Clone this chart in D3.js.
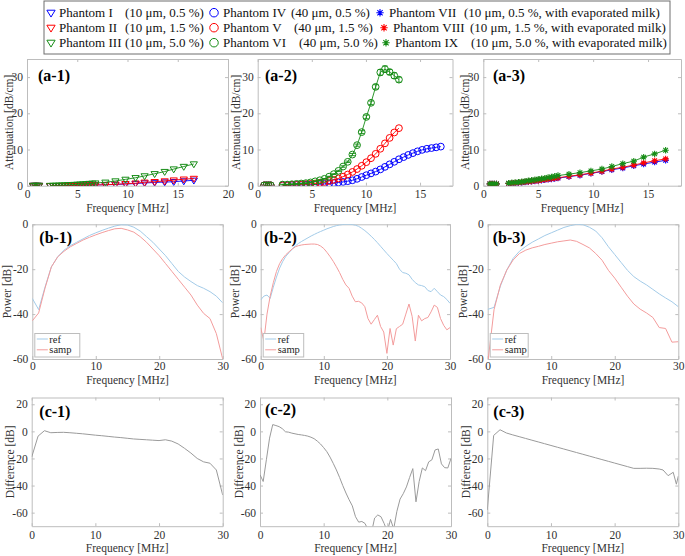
<!DOCTYPE html>
<html><head><meta charset="utf-8">
<script src="https://cdn.jsdelivr.net/npm/d3@7"></script>
<style>body{margin:0;background:#fff} svg{display:block;font-family:"Liberation Serif","Times New Roman",serif}</style>
</head><body><svg id="c" width="685" height="556"></svg>
<script>
// ---------------- DATA ----------------
const legendNames = [["Phantom I","Phantom IV","Phantom VII"],["Phantom II","Phantom V","Phantom VIII"],["Phantom III","Phantom VI","Phantom IX"]];
const legendParams = [["(10 \u03bcm, 0.5 %)","(40 \u03bcm, 0.5 %)","(10 \u03bcm, 0.5 %, with evaporated milk)"],
                      ["(10 \u03bcm, 1.5 %)","(40 \u03bcm, 1.5 %)","(10 \u03bcm, 1.5 %, with evaporated milk)"],
                      ["(10 \u03bcm, 5.0 %)","(40 \u03bcm, 5.0 %)","(10 \u03bcm, 5.0 %, with evaporated milk)"]];
const panelTags = ["(a-1)","(a-2)","(a-3)","(b-1)","(b-2)","(b-3)","(c-1)","(c-2)","(c-3)"];
const seriesColors = ["#0000ff","#ff0000","#168c16"];

const freqLow = [0.6, 0.8, 1.0, 1.2];
const freqA13 = [2.3,2.6,2.9,3.2,3.5,3.8,4.1,4.4,4.7,5.0,5.3,5.6,5.9,6.2,6.5,6.8,7.8,8.8,9.8,10.8,11.7,12.7,13.7,14.6,15.6,16.6];
const freqA2 = [2.30,2.73,3.16,3.59,4.02,4.45,4.88,5.31,5.74,6.17,6.60,7.03,7.46,7.89,8.32,8.75,9.18,9.61,10.04,10.47,10.90,11.33,11.76,12.19,12.62,13.05,13.48,13.91,14.34,14.77,15.20,15.63,16.06,16.49,16.92];

// (a-1) Phantom I, II, III
const a1LowI = [0.05,0.05,0.05,0.05];
const a1LowII = [0.05,0.05,0.05,0.05];
const a1LowIII = [0.08,0.08,0.08,0.08];
const a1I = [0,0,0,0,0,0,0.02,0.03,0.05,0.07,0.08,0.1,0.12,0.14,0.16,0.18,0.25,0.35,0.45,0.6,0.75,0.9,1.0,1.1,1.3,1.5];
const a1II = [0,0,0,0,0,0,0.02,0.04,0.06,0.08,0.1,0.12,0.14,0.16,0.18,0.2,0.25,0.4,0.55,0.7,0.95,1.1,1.3,1.55,1.8,2.0];
const a1III = [0.05,0.08,0.1,0.13,0.16,0.2,0.24,0.28,0.32,0.37,0.42,0.47,0.53,0.6,0.66,0.72,0.95,1.3,1.75,2.2,2.7,3.3,3.9,4.6,5.3,6.0];

// (a-2) Phantom IV, V, VI
const a2LowIV = [0.1,0.1,0.1,0.1];
const a2LowV = [0.1,0.1,0.1,0.1];
const a2LowVI = [0.1,0.1,0.1,0.1];
const a2IV = [0.1,0.1,0.15,0.2,0.2,0.25,0.3,0.35,0.4,0.5,0.6,0.75,0.9,1.05,1.25,1.5,1.9,2.4,2.9,3.4,3.9,4.5,5.2,5.9,6.6,7.3,7.9,8.5,9.0,9.5,9.9,10.2,10.4,10.6,10.8];
const a2V = [0.1,0.1,0.2,0.2,0.3,0.4,0.5,0.6,0.8,1.0,1.3,1.6,2.0,2.5,3.1,3.8,4.6,5.5,6.5,7.6,8.8,10.2,11.7,13.2,14.7,15.9];
const a2VI = [0.3,0.3,0.4,0.5,0.6,0.7,0.9,1.2,1.5,1.9,2.5,3.2,4.1,5.3,6.6,8.6,11.2,14.8,19.0,22.9,27.3,31.3,32.2,31.4,30.4,29.3];
const a2VIerr = [0.1,0.1,0.1,0.1,0.1,0.1,0.1,0.1,0.1,0.1,0.1,0.1,0.15,0.2,0.2,0.3,0.3,0.4,0.5,0.5,0.6,0.8,0.9,0.7,0.8,0.7];

// (a-3) Phantom VII, VIII, IX
const a3LowVII = [0.5,0.5,0.5,0.5];
const a3LowVIII = [0.5,0.5,0.5,0.5];
const a3LowIX = [0.5,0.5,0.5,0.5];
const a3VII = [0.6,0.65,0.7,0.8,0.9,1.0,1.1,1.2,1.3,1.4,1.5,1.6,1.75,1.85,2.0,2.1,2.5,2.9,3.4,3.9,4.4,4.9,5.5,6.0,6.5,7.0];
const a3VIII = [0.6,0.7,0.75,0.85,0.95,1.05,1.15,1.25,1.35,1.45,1.6,1.7,1.85,1.95,2.1,2.2,2.6,3.0,3.5,4.0,4.6,5.1,5.7,6.3,6.9,7.4];
const a3IX = [0.7,0.8,0.9,1.0,1.1,1.25,1.4,1.5,1.65,1.8,1.95,2.1,2.25,2.4,2.6,2.8,3.2,3.6,4.1,4.6,5.3,6.1,6.8,7.9,8.8,9.8];

// (b) power spectra
const freqB = [0,1,2,3,4,5,6,7,8,9,10,11,12,13,14,15,16,17,18,19,20,21,22,23,24,25,26,27,28,29,30];
const freqB2 = [0,0.5,1,1.5,2,2.5,3,3.5,4,4.5,5,5.5,6,6.5,7,7.5,8,8.5,9,9.5,10,10.5,11,11.5,12,12.5,13,13.5,14,14.5,15,15.5,16,16.5,17,17.5,18,18.5,19,19.5,20,20.5,21,21.5,22,22.5,23,23.5,24,24.5,25,25.5,26,26.5,27,27.5,28,28.5,29,29.5,30];
const b1Ref = [-33,-38,-28,-19,-14.5,-11.5,-9.5,-8,-6.5,-5,-3.8,-2.7,-1.7,-0.8,-0.2,-0.3,-1.3,-3,-5.5,-8,-11,-14,-17.5,-21,-23.5,-25.5,-27.3,-28.5,-30,-32,-35];
const b1Samp = [-43,-39.5,-28.5,-19,-14.5,-12,-10,-8.5,-7,-5.8,-4.7,-3.7,-2.8,-2,-1.8,-2.5,-3.5,-5.5,-8,-11,-14,-17.5,-21,-24.5,-28,-31.5,-36,-39.7,-42,-48.7,-60];
const b2Ref = [-33.7,-32,-31.5,-33,-28,-23.5,-19.5,-16.5,-14.2,-12.6,-11,-9.6,-8.5,-7.6,-6.8,-6,-5.2,-4.5,-3.8,-3.2,-2.6,-2,-1.5,-1,-0.6,-0.3,-0.1,0,0,-0.1,-0.4,-0.9,-1.8,-2.8,-4,-5.3,-6.7,-8.2,-9.8,-11.4,-13,-14.5,-16,-17.5,-20,-21.5,-21.8,-22.5,-24.5,-26,-27,-27.3,-27.8,-29.5,-30,-28.5,-30,-31.5,-32.2,-33.5,-35.2];
const b2Samp = [-46,-52,-40,-32,-26,-21,-17.5,-15.2,-13.5,-12.2,-11,-10,-9.5,-9.2,-9,-8.9,-8.8,-8.8,-9,-9.7,-10.8,-12.5,-14.4,-16.5,-18.9,-21.5,-24.5,-27,-28.5,-32,-34.5,-34.3,-35,-36.7,-42,-44.5,-42.5,-40.5,-45.5,-48,-57.5,-46.4,-53.8,-46.5,-45.5,-44.5,-40,-35.5,-41,-52,-40.5,-43,-42,-41.5,-39,-36,-37,-42,-45,-47,-46];
const b3Ref = [-37.9,-37,-27.5,-20.4,-15.2,-12,-9.8,-8,-6.5,-5,-3.8,-2.6,-1.4,-0.6,0,-0.2,-1.3,-3,-6,-10,-13.5,-17,-20.5,-23.3,-25.3,-27,-29,-31,-32.8,-34.5,-36.7];
const b3Samp = [-62,-38,-27,-20.4,-15.9,-13,-11.5,-10.5,-9.8,-9,-8.4,-7.8,-7.4,-7,-7.6,-9,-10.5,-13,-16,-20.5,-24,-28,-32,-35.5,-37.8,-39.5,-41.5,-46,-46.4,-52.5,-52.3];

// (c) differences
const c1Diff = [-19,-3.5,0.5,-1,-0.8,-0.7,-1,-1.4,-1.8,-2.3,-2.8,-3.2,-3.7,-4.2,-4.6,-5.1,-5.6,-5.9,-6.2,-6.5,-6.8,-6.2,-7.2,-9.3,-12.5,-16,-20,-22.5,-23.5,-28.5,-47];
const c2Diff = [-32,-37,-21,-5,5,4.3,3.5,2,-0.3,-0.6,-1.3,-1.8,-2.3,-2.6,-3,-3.5,-4.3,-5.4,-7.2,-9.3,-12,-15,-19,-23.6,-28.5,-34,-40,-45.5,-50.5,-55,-63,-67,-66.5,-68,-73,-75,-64,-61.7,-63,-68,-74,-65,-72,-59,-50,-46,-41,-34,-27.5,-52,-37,-27,-29,-22.5,-21,-13.7,-13,-24,-26.8,-27,-20];
const freqC3 = [0,1,2,3,4,5,6,7,8,9,10,11,12,13,14,15,16,17,18,19,20,21,22,23,24,25,26,27,27.6,28.4,29.2,29.7,30];
const c3Diff = [-58,-3,1.2,-1.2,-2.6,-3.9,-5.2,-6.5,-7.8,-9.1,-10.4,-11.7,-13,-14.3,-15.6,-16.9,-18.2,-19.5,-20.8,-22.1,-23.4,-24.7,-26,-27.3,-27.3,-27.2,-27.3,-27.8,-28.5,-32.7,-30.2,-39,-33];

// ---------------- DRAWING ----------------
const FONT = '"Liberation Serif","Times New Roman",serif';
const svg = d3.select("#c");
const defs = svg.append("defs");
let clipN = 0;

function panel(o) {
  const xs = d3.scaleLinear().domain(o.xd).range([o.x0, o.x1]);
  const ys = d3.scaleLinear().domain(o.yd).range([o.y1, o.y0]);
  const cid = "clip" + (clipN++);
  defs.append("clipPath").attr("id", cid).append("rect")
    .attr("x", o.x0).attr("y", o.y0).attr("width", o.x1 - o.x0).attr("height", o.y1 - o.y0);
  const g = svg.append("g");
  const fmt = d => String(d);
  g.append("g").attr("transform", `translate(0,${o.y1})`)
    .call(d3.axisBottom(xs).tickValues(o.xt).tickSize(-3).tickSizeOuter(0).tickPadding(o.xpad).tickFormat(fmt));
  g.append("g").attr("transform", `translate(0,${o.y0})`)
    .call(d3.axisTop(xs).tickValues(o.xt).tickSize(-3).tickSizeOuter(0).tickFormat(() => ""));
  g.append("g").attr("transform", `translate(${o.x0},0)`)
    .call(d3.axisLeft(ys).tickValues(o.yt).tickSize(-3).tickSizeOuter(0).tickPadding(4).tickFormat(fmt));
  g.append("g").attr("transform", `translate(${o.x1},0)`)
    .call(d3.axisRight(ys).tickValues(o.yt).tickSize(-3).tickSizeOuter(0).tickFormat(() => ""));
  g.selectAll(".domain").attr("stroke", "#bdbdbd").attr("stroke-width", 1);
  g.selectAll(".tick line").attr("stroke", "#bdbdbd");
  g.selectAll(".tick text").attr("fill", "#303030").style("font-family", FONT).style("font-size", "11.5px");
  svg.append("text").attr("x", (o.x0 + o.x1) / 2).attr("y", o.xlabY).attr("text-anchor", "middle")
    .style("font-family", FONT).style("font-size", "11.5px").attr("fill", "#333").text("Frequency [MHz]");
  svg.append("text").attr("transform", `translate(${o.ylabX},${(o.y0 + o.y1) / 2}) rotate(-90)`)
    .attr("text-anchor", "middle").style("font-family", FONT).style("font-size", "11.5px").attr("fill", "#333").text(o.ylab);
  const plot = svg.append("g").attr("clip-path", `url(#${cid})`);
  const top = svg.append("g");
  top.append("text").attr("x", o.tagX).attr("y", o.tagY).style("font-family", FONT).style("font-size", "16px")
    .style("font-weight", "bold").attr("fill", "#000").text(o.tag);
  return {xs, ys, plot, top, o};
}

function marker(sel, type, x, y, color, s) {
  s = s || 1;
  if (type === "tri") {
    const h = 3.6 * s;
    sel.append("path").attr("d", `M${x - h},${y - h * 0.6}L${x + h},${y - h * 0.6}L${x},${y + h * 1.05}Z`)
      .attr("fill", "none").attr("stroke", color).attr("stroke-width", 1);
  } else if (type === "circ") {
    sel.append("circle").attr("cx", x).attr("cy", y).attr("r", 3.4 * s)
      .attr("fill", "none").attr("stroke", color).attr("stroke-width", 1);
  } else {
    const r = 3.2 * s, d = r * 0.72;
    sel.append("path").attr("d", `M${x},${y - r}V${y + r}M${x - r},${y}H${x + r}M${x - d},${y - d}L${x + d},${y + d}M${x - d},${y + d}L${x + d},${y - d}`)
      .attr("fill", "none").attr("stroke", color).attr("stroke-width", 1.1);
  }
}

function attSeries(P, freq, vals, color, type, err) {
  const pts = vals.map((v, i) => [freq[i], v]);
  const line = d3.line().x(d => P.xs(d[0])).y(d => P.ys(d[1]));
  P.plot.append("path").attr("d", line(pts)).attr("fill", "none").attr("stroke", color).attr("stroke-width", 0.9);
  pts.forEach((d, i) => {
    const x = P.xs(d[0]), y = P.ys(d[1]);
    if (err) {
      const e = err[i];
      const y1 = P.ys(d[1] - e), y2 = P.ys(d[1] + e);
      P.plot.append("path").attr("d", `M${x},${y1}V${y2}M${x - 2.5},${y1}H${x + 2.5}M${x - 2.5},${y2}H${x + 2.5}`)
        .attr("stroke", color).attr("stroke-width", 0.9).attr("fill", "none");
    }
    marker(P.plot, type, x, y, color);
  });
}

function specLine(P, freq, vals, color) {
  const line = d3.line().x((d, i) => P.xs(freq[i])).y(d => P.ys(d));
  P.plot.append("path").attr("d", line(vals)).attr("fill", "none").attr("stroke", color).attr("stroke-width", 1);
}

const REF = "#a3cbe8", SAMP = "#f39c9c", DIFF = "#9a9a9a";

function specLegend(P, w) {
  const o = P.o;
  const bx = o.x0 + 2.5, by = o.y1 - 25.5;
  P.top.append("rect").attr("x", bx).attr("y", by).attr("width", w).attr("height", 23.5)
    .attr("fill", "#fff").attr("stroke", "#bdbdbd").attr("stroke-width", 1);
  [["ref", REF], ["samp", SAMP]].forEach((e, i) => {
    const yy = by + 5.5 + i * 10.8;
    P.top.append("line").attr("x1", bx + 2).attr("x2", bx + 13).attr("y1", yy).attr("y2", yy).attr("stroke", e[1]).attr("stroke-width", 1);
    P.top.append("text").attr("x", bx + 14.5).attr("y", yy + 3.6).style("font-family", FONT).style("font-size", "10.5px")
      .attr("fill", "#262626").text(e[0]);
  });
}

// ---- row a
const rowA = {y0: 59, y1: 185.7, yd: [0, 35], yt: [0, 10, 20, 30], xpad: 4.5, xlabY: 212, ylab: "Attenuation [dB/cm]", tagY: 81};
const A1 = panel({...rowA, x0: 27, x1: 228, xd: [0, 20], xt: [0, 5, 10, 15, 20], ylabX: 12.5, tag: panelTags[0], tagX: 38});
const A2 = panel({...rowA, x0: 257.7, x1: 452.5, xd: [0, 18], xt: [0, 5, 10, 15], ylabX: 240, tag: panelTags[1], tagX: 265});
const A3 = panel({...rowA, x0: 483.3, x1: 681, xd: [0, 18], xt: [0, 5, 10, 15], ylabX: 468.5, tag: panelTags[2], tagX: 493});

[[a1LowI, a1I], [a1LowII, a1II], [a1LowIII, a1III]].forEach((s, k) => {
  attSeries(A1, freqLow, s[0], seriesColors[k], "tri");
  attSeries(A1, freqA13, s[1], seriesColors[k], "tri");
});
attSeries(A2, freqLow, a2LowIV, seriesColors[0], "circ");
attSeries(A2, freqA2, a2IV, seriesColors[0], "circ");
attSeries(A2, freqLow, a2LowV, seriesColors[1], "circ");
attSeries(A2, freqA2, a2V, seriesColors[1], "circ");
attSeries(A2, freqLow, a2LowVI, seriesColors[2], "circ");
attSeries(A2, freqA2, a2VI, seriesColors[2], "circ", a2VIerr);
[[a3LowVII, a3VII], [a3LowVIII, a3VIII], [a3LowIX, a3IX]].forEach((s, k) => {
  attSeries(A3, freqLow, s[0], seriesColors[k], "star");
  attSeries(A3, freqA13, s[1], seriesColors[k], "star");
});

// ---- row b
const rowB = {y0: 224.3, y1: 359, yd: [-60, 0], yt: [-60, -40, -20, 0], xd: [0, 30], xt: [0, 10, 20, 30], xpad: 2.5, xlabY: 383.5, ylab: "Power [dB]", tagY: 243.3};
const B1 = panel({...rowB, x0: 32.3, x1: 222.7, ylabX: 10.7, tag: panelTags[3], tagX: 39.3});
const B2 = panel({...rowB, x0: 260.7, x1: 450, ylabX: 239, tag: panelTags[4], tagX: 264});
const B3 = panel({...rowB, x0: 487.7, x1: 678.3, ylabX: 467, tag: panelTags[5], tagX: 492.7});
specLine(B1, freqB, b1Ref, REF); specLine(B1, freqB, b1Samp, SAMP);
specLine(B2, freqB2, b2Ref, REF); specLine(B2, freqB2, b2Samp, SAMP);
specLine(B3, freqB, b3Ref, REF); specLine(B3, freqB, b3Samp, SAMP);
specLegend(B1, 45); specLegend(B2, 40.5); specLegend(B3, 38);

// ---- row c
const rowC = {y0: 397.5, y1: 526.2, yd: [-70, 25], yt: [-60, -40, -20, 0, 20], xd: [0, 30], xt: [0, 10, 20, 30], xpad: 4.5, xlabY: 552, ylab: "Difference [dB]", tagY: 416.7};
const C1 = panel({...rowC, x0: 31.7, x1: 222.7, ylabX: 14, tag: panelTags[6], tagX: 39.3});
const C2 = panel({...rowC, x0: 260, x1: 451, ylabX: 242.5, tag: panelTags[7], tagX: 265, tagY: 415});
const C3 = panel({...rowC, x0: 487.3, x1: 678.3, ylabX: 470, tag: panelTags[8], tagX: 493.3});
specLine(C1, freqB, c1Diff, DIFF);
specLine(C2, freqB2, c2Diff, DIFF);
specLine(C3, freqC3, c3Diff, DIFF);

// ---- top legend
const lg = svg.append("g");
lg.append("rect").attr("x", 44).attr("y", 1).attr("width", 626).attr("height", 53)
  .attr("fill", "#fff").attr("stroke", "#6e6e6e").attr("stroke-width", 1);
const baseY = [17, 32, 47];
const mX = [[51, 214, 380], [51, 214, 384], [51, 214, 386]];
const nX = [[59, 223, 389], [59, 223, 393], [59, 223, 395]];
const pX = [[125, 291, 464], [125, 294, 470], [125, 299, 471]];
const mTypes = ["tri", "circ", "star"];
legendNames.forEach((row, r) => {
  row.forEach((nm, c) => {
    marker(lg, mTypes[c], mX[r][c], baseY[r] - 4.3, seriesColors[r], c === 1 ? 1.25 : 1.15);
    lg.append("text").attr("x", nX[r][c]).attr("y", baseY[r]).style("font-family", FONT).style("font-size", "13px")
      .attr("fill", "#111").text(nm);
    lg.append("text").attr("x", pX[r][c]).attr("y", baseY[r]).style("font-family", FONT).style("font-size", "13px")
      .attr("fill", "#111").text(legendParams[r][c]);
  });
});
</script></body></html>
